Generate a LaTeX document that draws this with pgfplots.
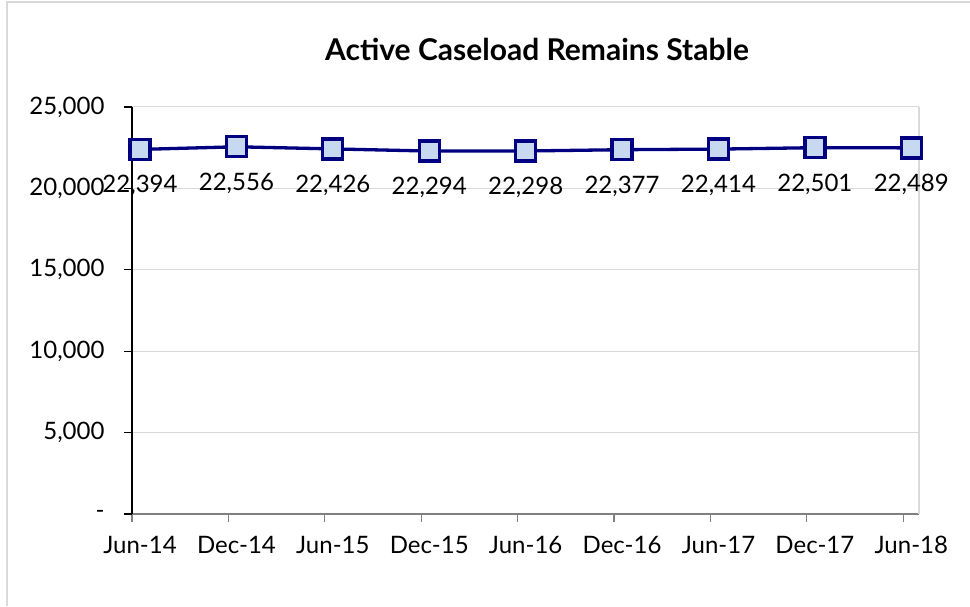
\documentclass[border=0pt]{standalone}
\usepackage{pgfplots}
\pgfplotsset{compat=1.18}
\usepackage{fontspec}
\setmainfont{Lato}
\definecolor{navyline}{HTML}{000080}
\definecolor{markfill}{HTML}{C6D9F1}
\definecolor{gridc}{HTML}{D9D9D9}
\definecolor{xaxc}{HTML}{808080}
\begin{document}
\begin{tikzpicture}[x=1pt,y=1pt]
\path[use as bounding box] (0,0) rectangle (970,606);
\draw[gridc, line width=2pt] (7,0) -- (7,604) -- (970,604);
\node[font=\fontsize{30}{34}\selectfont\bfseries] at (537,557) {Active Caseload Remains Stable};
\begin{axis}[
  at={(132pt,92pt)}, anchor=south west,
  scale only axis, width=787pt, height=407pt,
  xmin=-0.083, xmax=8.08, ymin=0, ymax=25000,
  clip=false,
  scaled y ticks=false,
  axis x line*=bottom, axis y line*=left,
  x axis line style={draw=xaxc, line width=1.5pt, -},
  y axis line style={draw=black, line width=1.2pt, -},
  tick align=outside,
  xtick={0,...,8},
  xticklabels={Jun-14,Dec-14,Jun-15,Dec-15,Jun-16,Dec-16,Jun-17,Dec-17,Jun-18},
  minor xtick={-0.083,0.917,1.917,2.917,3.917,4.917,5.917,6.917,7.917},
  major x tick style={draw=none},
  minor x tick style={draw=xaxc, line width=1.2pt},
  minor tick length=8pt,
  major tick length=8pt,
  ytick={0,5000,10000,15000,20000,25000},
  yticklabels={{-\hspace{17pt}},{5,000},{10,000},{15,000},{20,000},{25,000}},
  ytick style={draw=black, line width=1.2pt},
  ymajorgrids, major y grid style={gridc, line width=1pt},
  tick label style={font=\fontsize{24}{28}\selectfont, text=black},
  yticklabel style={xshift=-16pt},
  xticklabel style={yshift=-11pt},
  /pgf/number format/assume math mode=true,
  /pgf/number format/1000 sep={,},
]
\draw[gridc, line width=1.2pt] (rel axis cs:1,0) -- (rel axis cs:1,1);
\addplot[navyline, line width=3.3pt, mark=square*, mark size=10pt,
  mark options={fill=markfill, line width=3.3pt, rounded corners=1.5pt},
  nodes near coords={\pgfmathprintnumber{\pgfplotspointmeta}},
  every node near coord/.append style={anchor=north, yshift=-21pt, font=\fontsize{24}{28}\selectfont, text=black}]
  coordinates {(0,22394)(1,22556)(2,22426)(3,22294)(4,22298)(5,22377)(6,22414)(7,22501)(8,22489)};
\end{axis}
\end{tikzpicture}
\end{document}
